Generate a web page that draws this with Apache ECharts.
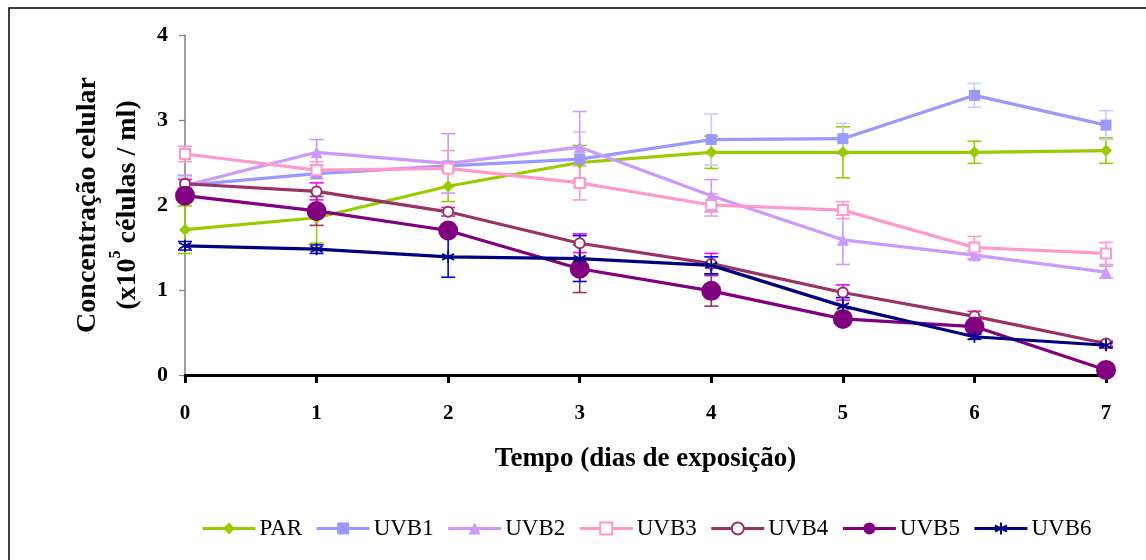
<!DOCTYPE html>
<html>
<head>
<meta charset="utf-8">
<script src="https://cdn.jsdelivr.net/npm/echarts@6/dist/echarts.min.js"></script>
<style>
html,body{margin:0;padding:0;background:#fff;}
#chart{width:1146px;height:560px;}
</style>
</head>
<body>
<div id="chart"></div>
<script>
const days = [0, 1, 2, 3, 4, 5, 6, 7];
const seriesNames = ['PAR', 'UVB1', 'UVB2', 'UVB3', 'UVB4', 'UVB5', 'UVB6'];
const PAR  = [1.71, 1.85, 2.22, 2.50, 2.62, 2.62, 2.62, 2.64];
const UVB1 = [2.23, 2.37, 2.46, 2.54, 2.77, 2.78, 3.29, 2.94];
const UVB2 = [2.23, 2.62, 2.49, 2.68, 2.11, 1.59, 1.41, 1.21];
const UVB3 = [2.60, 2.41, 2.43, 2.26, 2.00, 1.94, 1.50, 1.43];
const UVB4 = [2.25, 2.16, 1.92, 1.55, 1.31, 0.97, 0.69, 0.37];
const UVB5 = [2.11, 1.93, 1.70, 1.25, 0.99, 0.66, 0.57, 0.06];
const UVB6 = [1.52, 1.48, 1.39, 1.37, 1.29, 0.81, 0.45, 0.35];
const errPAR  = [0.28, 0.30, 0.18, 0.20, 0.19, 0.30, 0.13, 0.15];
const errUVB1 = [0.10, 0.05, 0.05, 0.32, 0.30, 0.18, 0.14, 0.17];
const errUVB2 = [0.12, 0.15, 0.35, 0.42, 0.19, 0.29, 0.05, 0.07];
const errUVB3 = [0.09, 0.10, 0.21, 0.20, 0.13, 0.10, 0.13, 0.13];
const errUVB4 = [0.05, 0.10, 0.05, 0.11, 0.12, 0.09, 0.06, 0.03];
const errUVB5 = [0.05, 0.17, 0.05, 0.28, 0.18, 0.05, 0.05, 0.02];
const errUVB6 = [0.05, 0.05, 0.24, 0.27, 0.10, 0.10, 0.03, 0.03];
const yTicks = [0, 1, 2, 3, 4];

const values = [PAR, UVB1, UVB2, UVB3, UVB4, UVB5, UVB6];
const errors = [errPAR, errUVB1, errUVB2, errUVB3, errUVB4, errUVB5, errUVB6];
const lineColors = ['#99CC00', '#9999FF', '#CC99FF', '#FF99CC', '#993366', '#800080', '#000080'];
const errColors  = ['#99CC00', '#CCCCFF', '#CC99FF', '#FF99CC', '#FF00FF', '#993366', '#0000FF'];
const symbols = ['diamond', 'rect', 'triangle', 'emptyRect', 'emptyCircle', 'circle',
  'path://M0,-6L0,6M-5.2,-3L5.2,3M-5.2,3L5.2,-3'];
const symbolSizes = [12, 11, 12, 10, 10, 20, 12];

const FONT = 'Liberation Serif';

const series = [];
values.forEach((vals, i) => {
  series.push({
    type: 'custom',
    name: seriesNames[i] + ' err',
    data: days.map((d, k) => [d, vals[k], errors[i][k]]),
    encode: { x: 0, y: 1 },
    z: 1,
    silent: true,
    renderItem: function (params, api) {
      const x = api.value(0), v = api.value(1), e = api.value(2);
      const top = api.coord([x, v + e]);
      const bot = api.coord([x, v - e]);
      const hw = 7;
      const st = { stroke: errColors[i], lineWidth: 1.6 };
      return {
        type: 'group',
        children: [
          { type: 'line', shape: { x1: top[0], y1: top[1], x2: bot[0], y2: bot[1] }, style: st },
          { type: 'line', shape: { x1: top[0] - hw, y1: top[1], x2: top[0] + hw, y2: top[1] }, style: st },
          { type: 'line', shape: { x1: bot[0] - hw, y1: bot[1], x2: bot[0] + hw, y2: bot[1] }, style: st }
        ]
      };
    }
  });
});
values.forEach((vals, i) => {
  const isStar = i === 6;
  series.push({
    type: 'line',
    name: seriesNames[i],
    data: days.map((d, k) => [d, vals[k]]),
    symbol: symbols[i],
    symbolSize: symbolSizes[i],
    showAllSymbol: true,
    z: 3 + i,
    lineStyle: { color: lineColors[i], width: 3.2 },
    itemStyle: isStar
      ? { color: lineColors[i], borderColor: lineColors[i], borderWidth: 1.8 }
      : { color: lineColors[i], borderColor: lineColors[i], borderWidth: (i === 3 || i === 4) ? 1.6 : 0 },
    emphasis: { disabled: true }
  });
});

const chart = echarts.init(document.getElementById('chart'));
chart.setOption({
  animation: false,
  backgroundColor: '#fff',
  graphic: [{
    type: 'rect',
    shape: { x: 9, y: 8, width: 1160, height: 580 },
    style: { fill: 'none', stroke: '#000', lineWidth: 1.5 },
    z: 0
  }],
  grid: { left: 185, right: 40, top: 35, bottom: 185, containLabel: false },
  legend: {
    data: seriesNames,
    left: 196,
    top: 512,
    itemWidth: 53,
    itemHeight: 15,
    itemGap: 13,
    lineStyle: { width: 3 },
    textStyle: { fontFamily: FONT, fontSize: 23, color: '#000', padding: [0, 0, 0, -1] }
  },
  xAxis: {
    type: 'value',
    min: 0, max: 7, interval: 1,
    name: 'Tempo (dias de exposição)',
    nameLocation: 'middle',
    nameGap: 71,
    nameTextStyle: { fontFamily: FONT, fontWeight: 'bold', fontSize: 27, color: '#000' },
    axisLine: { lineStyle: { color: '#000', width: 3 } },
    axisTick: { length: 8, lineStyle: { color: '#000', width: 3 } },
    axisLabel: { margin: 28, fontFamily: FONT, fontWeight: 'bold', fontSize: 21, color: '#000' },
    splitLine: { show: false }
  },
  yAxis: {
    type: 'value',
    min: 0, max: 4, interval: 1,
    name: '{t|Concentração celular}\n{t|(x10}{s|5}{t| células / ml)}',
    nameLocation: 'middle',
    nameRotate: 90,
    nameGap: 37,
    nameTextStyle: {
      rich: {
        t: { fontFamily: FONT, fontWeight: 'bold', fontSize: 28, color: '#000', lineHeight: 40 },
        s: { fontFamily: FONT, fontWeight: 'bold', fontSize: 16, color: '#000', verticalAlign: 'top', lineHeight: 26 }
      }
    },
    axisLine: { show: true, lineStyle: { color: '#808080', width: 1.5 } },
    axisTick: { show: true, length: 6, lineStyle: { color: '#808080', width: 1.2 } },
    axisLabel: {
      margin: 17, fontFamily: FONT, fontWeight: 'bold', fontSize: 22, color: '#000',
      formatter: function (v) { return yTicks.indexOf(v) >= 0 ? String(v) : ''; }
    },
    splitLine: { show: false }
  },
  series: series
});
</script>
</body>
</html>
